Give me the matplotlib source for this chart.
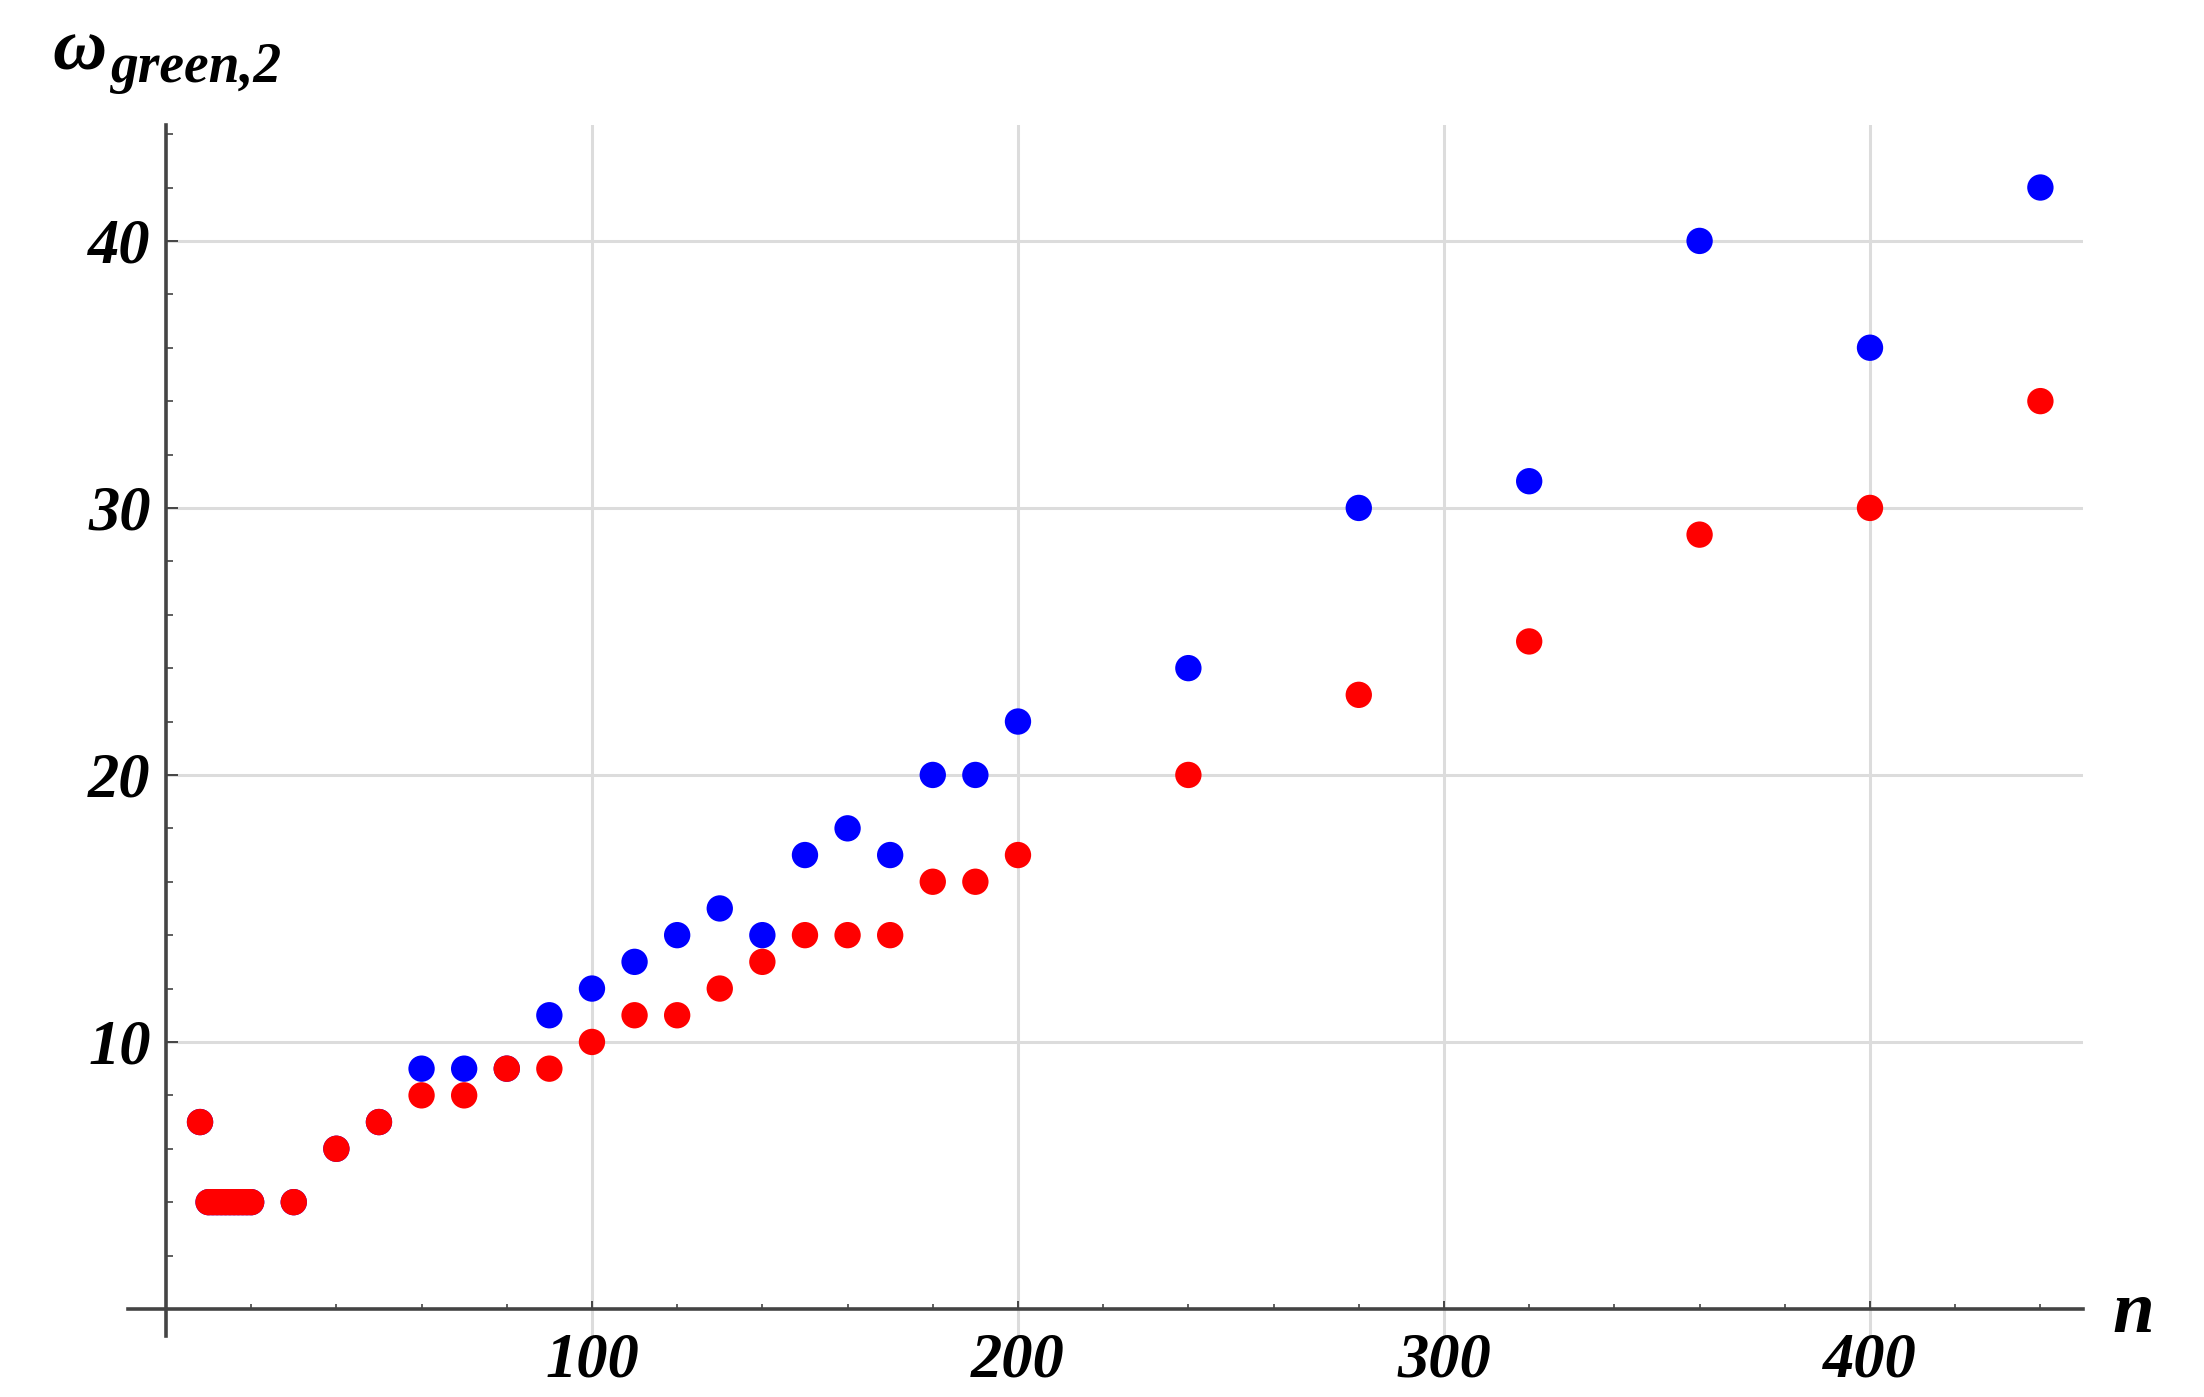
import numpy as np
import matplotlib.pyplot as plt
from matplotlib.ticker import MultipleLocator, FixedLocator

# data
n_vals = [8, 10, 11, 12, 13, 14, 15, 16, 17, 18, 19, 20, 30, 40, 50, 60, 70, 80, 90,
          100, 110, 120, 130, 140, 150, 160, 170, 180, 190, 200, 240, 280, 320, 360,
          400, 440]
blue_vals = [7, 4, 4, 4, 4, 4, 4, 4, 4, 4, 4, 4, 4, 6, 7, 9, 9, 9, 11,
             12, 13, 14, 15, 14, 17, 18, 17, 20, 20, 22, 24, 30, 31, 40,
             36, 42]
red_vals = [7, 4, 4, 4, 4, 4, 4, 4, 4, 4, 4, 4, 4, 6, 7, 8, 8, 9, 9,
            10, 11, 11, 12, 13, 14, 14, 14, 16, 16, 17, 20, 23, 25, 29,
            30, 34]
x_ticks = [100, 200, 300, 400]
y_ticks = [10, 20, 30, 40]

FONT = 'Liberation Serif'
AXIS_COL = '#444444'
GRID_COL = '#dcdcdc'

fig = plt.figure(figsize=(22.04, 13.97), dpi=100)
ax = fig.add_axes([0.0579, 0.0439, 0.8872, 0.8666])

xlo, xhi = -9, 450
ax.set_xlim(xlo, xhi)
ax.set_ylim(-1, 44.34)

# grid: vertical lines full height, horizontal ones start at the y axis
for x in x_ticks:
    ax.axvline(x, color=GRID_COL, lw=2.2, zorder=0)
for y in y_ticks:
    ax.axhline(y, xmin=(0 - xlo) / (xhi - xlo), color=GRID_COL, lw=2.2, zorder=0)

ax.scatter(n_vals, blue_vals, s=360, color='#0000ff', edgecolors='none', zorder=3)
ax.scatter(n_vals, red_vals, s=360, color='#ff0000', edgecolors='none', zorder=4)

for side in ['top', 'right']:
    ax.spines[side].set_visible(False)
for side in ['left', 'bottom']:
    ax.spines[side].set_position(('data', 0))
    ax.spines[side].set_color(AXIS_COL)
    ax.spines[side].set_linewidth(2.6)

ax.xaxis.set_major_locator(FixedLocator(x_ticks))
ax.xaxis.set_minor_locator(MultipleLocator(20))
ax.yaxis.set_major_locator(FixedLocator(y_ticks))
ax.yaxis.set_minor_locator(MultipleLocator(2))

ax.tick_params(which='major', direction='in', color=AXIS_COL, width=1.4)
ax.tick_params(which='minor', direction='in', color=AXIS_COL, width=1.2)
ax.tick_params(axis='x', which='major', length=6, pad=17)
ax.tick_params(axis='x', which='minor', length=3.5)
ax.tick_params(axis='y', which='major', length=8.5, pad=11)
ax.tick_params(axis='y', which='minor', length=5)

for lab in ax.get_xticklabels() + ax.get_yticklabels():
    lab.set_fontfamily(FONT)
    lab.set_fontsize(45)
    lab.set_fontweight('bold')
    lab.set_fontstyle('italic')

# axis labels
fig.text(0.024, 0.950, 'ω', fontfamily=FONT, fontsize=54, fontstyle='italic',
         fontweight='bold', ha='left', va='baseline')
fig.text(0.050, 0.9413, 'green,2', fontfamily=FONT, fontsize=40, fontstyle='italic',
         fontweight='bold', ha='left', va='baseline')
fig.text(2133 / 2204, 1 - 1332 / 1397, 'n', fontfamily=FONT, fontsize=54,
         fontstyle='italic', fontweight='bold', ha='center', va='baseline')

fig.savefig('out.png', dpi=100)
